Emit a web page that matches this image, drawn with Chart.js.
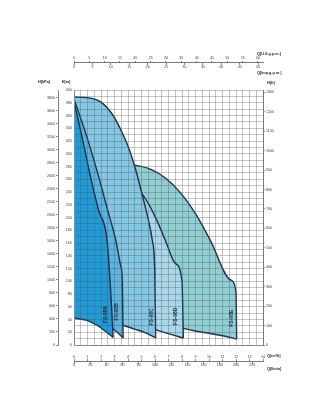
<!DOCTYPE html>
<html>
<head>
<meta charset="utf-8">
<title>FS-98 pump performance curves</title>
<style>
html,body{margin:0;padding:0;background:#fff;}
#wrap{position:relative;width:320px;height:420px;}
canvas{display:block;}
</style>
<script src="https://cdn.jsdelivr.net/npm/chart.js@4.4.1/dist/chart.umd.min.js"></script>
</head>
<body>
<div id="wrap"><canvas id="chart"></canvas></div>
<script>
// ---------------- data (Q in m3/h, H in m) ----------------
const seriesNames = ['FS-98A', 'FS-98B', 'FS-98C', 'FS-98D', 'FS-98E'];

// upper curve (max stages) followed by the right-hand limit
const topQ_A = [0, 0.6, 1.2, 1.8, 2.45, 2.7, 2.9];
const topH_A = [382, 326, 266, 213, 164, 90, 12];
const botQ_A = [0, 0.9, 1.7, 2.3, 2.9];
const botH_A = [42, 39, 31, 22, 12];

const topQ_B = [0, 0.9, 1.8, 2.5, 3.1, 3.45, 3.57, 3.64];
const topH_B = [386, 330, 266, 211, 164, 125, 105, 11];
const botQ_B = [0, 1.5, 2.9, 3.3, 3.64];
const botH_B = [50, 40, 25, 18, 11];

const topQ_C = [0, 1, 2, 2.9, 3.5, 4, 4.5, 5, 5.5, 5.8, 5.98, 6.05];
const topH_C = [389, 388, 381, 360, 336, 312, 280, 240, 197, 164, 118, 11];
const botQ_C = [0, 2, 3.64, 4.5, 5.3, 6.05];
const botH_C = [58, 45, 31, 25, 19, 11];

const topQ_D = [0, 2, 3.5, 4.5, 5.5, 6.1, 6.77, 7.5, 8.0, 8.1];
const topH_D = [290, 283, 270, 252, 222, 197, 164, 128, 100, 11];
const botQ_D = [0, 3, 6.05, 7.1, 8.1];
const botH_D = [65, 48, 24, 17, 11];

const topQ_E = [0, 2, 4, 5.65, 6.77, 7.88, 9, 10.1, 11.6, 12.0, 12.05];
const topH_E = [295, 292, 284, 276, 262, 239, 206, 164, 102, 83, 9.5];
const botQ_E = [0, 4, 8.1, 9, 10.1, 11, 12.05];
const botH_E = [70, 52, 26, 22, 18, 14.5, 9.5];

// label anchors (data units) for the model names
const labelQ = [2.37, 3.19, 5.78, 7.56, 11.7];
const labelH = [48, 52, 44, 45, 42];

// tick labels
const hLabels   = [0,20,40,60,80,100,120,140,160,180,200,220,240,260,280,300,320,340,360,380,400];
const kpaTicks  = [0,200,400,600,800,1000,1200,1400,1600,1800,2000,2200,2400,2600,2800,3000,3200,3400,3600,3800];
const ftTicks   = [0,100,200,300,400,500,600,700,800,900,1000,1100,1200,1300];
const qTicks    = [0,1,2,3,4,5,6,7,8,9,10,11,12,13,14];
const lminTicks = [0,20,40,60,80,100,120,140,160,180,200,220];
const usTicks   = [0,5,10,15,20,25,30,35,40,45,50,55,60];
const impTicks  = [0,5,10,15,20,25,30,35,40,45,50];

// unit conversions
const Q_MAX = 14, H_MAX = 400;
const KPA_PER_M = 9.80665, FT_PER_M = 3.28084;
const USGPM_PER_M3H = 4.40287, IMPGPM_PER_M3H = 3.66615, LMIN_PER_M3H = 1000 / 60;

// ---------------- style ----------------
const FONT = "'Liberation Sans', Arial, sans-serif";
const tickFont = {family: FONT, size: 3.6};
const TICK_COLOR = '#3a3a3a';
const GRID = 'rgba(80,80,80,0.33)';
const LINE = '#18314f';
const AXIS = '#8a8a8a';
const fills = ['#1f9bd8', '#5cb5e0', '#84c7e3', '#a8d8ea', '#8fcfd3'];
const plain = v => String(v);

const PLOT_TOP = 90, PLOT_BOTTOM = 345;
const toH = py => (PLOT_BOTTOM - py) / (PLOT_BOTTOM - PLOT_TOP) * H_MAX;
const rulerTop = toH(63), rulerBot = toH(361);

const pts = (q, h) => q.map((v, i) => ({x: v, y: h[i]}));
const regions = [
  [topQ_A, topH_A, botQ_A, botH_A],
  [topQ_B, topH_B, botQ_B, botH_B],
  [topQ_C, topH_C, botQ_C, botH_C],
  [topQ_D, topH_D, botQ_D, botH_D],
  [topQ_E, topH_E, botQ_E, botH_E]
];
const datasets = [];
regions.forEach((r, i) => {
  const topIdx = datasets.length;
  datasets.push({
    label: seriesNames[i] + ' max', data: pts(r[0], r[1]), xAxisID: 'x', yAxisID: 'y',
    borderColor: LINE, borderWidth: 1.4, pointRadius: 0, fill: false,
    cubicInterpolationMode: 'monotone'
  });
  datasets.push({
    label: seriesNames[i] + ' min', data: pts(r[2], r[3]), xAxisID: 'x', yAxisID: 'y',
    borderColor: LINE, borderWidth: 1.4, pointRadius: 0, fill: topIdx,
    backgroundColor: fills[i], cubicInterpolationMode: 'monotone'
  });
});

const setTicks = arr => s => { s.ticks = arr.map(v => ({value: v})); };
const ruler = (max, arr, pos, tickLen, pad, border) => ({
  type: 'linear', axis: 'x', position: {y: pos}, min: 0, max: max, bounds: 'data',
  afterBuildTicks: setTicks(arr),
  ticks: {font: tickFont, color: TICK_COLOR, padding: pad, autoSkip: false, maxRotation: 0, minRotation: 0, callback: plain},
  grid: {display: true, drawOnChartArea: false, drawTicks: true, tickLength: tickLen, color: '#555', lineWidth: 0.7},
  border: {display: border, color: '#555', width: 0.8}
});

const titles = [
  ['H[kPa]', 44, 81.5, 'center'],
  ['H[m]', 66, 81.5, 'center'],
  ['H[ft]', 267, 83, 'left'],
  ['Q[U.S.g.p.m.]', 257, 53.5, 'left'],
  ['Q[Imp.g.p.m.]', 257, 73, 'left'],
  ['Q[m\u00B3/h]', 267, 355.5, 'left'],
  ['Q[l/min]', 267, 368.5, 'left']
];

const annot = {
  id: 'annot',
  afterDraw(chart) {
    const ctx = chart.ctx;
    ctx.save();
    ctx.fillStyle = '#222';
    ctx.textBaseline = 'middle';
    ctx.font = 'bold 3.8px ' + FONT;
    titles.forEach(t => { ctx.textAlign = t[3]; ctx.fillText(t[0], t[1], t[2]); });
    const sx = chart.scales.x, sy = chart.scales.y;
    ctx.font = 'bold 5px ' + FONT;
    ctx.fillStyle = '#1b2c44';
    seriesNames.forEach((n, i) => {
      ctx.save();
      ctx.translate(sx.getPixelForValue(labelQ[i]), sy.getPixelForValue(labelH[i]));
      ctx.rotate(-Math.PI / 2);
      ctx.textAlign = 'center';
      ctx.fillText(n, 0, 0);
      ctx.restore();
    });
    ctx.restore();
  }
};

new Chart(document.getElementById('chart'), {
  type: 'line',
  data: {datasets},
  plugins: [annot],
  options: {
    responsive: true, maintainAspectRatio: false, animation: false,
    layout: {padding: {left: 0, right: 0, top: PLOT_TOP, bottom: 420 - PLOT_BOTTOM}},
    plugins: {legend: {display: false}, tooltip: {enabled: false}},
    scales: {
      x: {
        type: 'linear', position: 'bottom', min: 0, max: Q_MAX,
        ticks: {display: false, stepSize: 0.5, autoSkip: false},
        grid: {display: true, drawOnChartArea: true, color: GRID, lineWidth: 1, drawTicks: false, z: 1},
        border: {display: true, color: AXIS, z: 2},
        afterFit: s => { s.height = 0; }
      },
      y: {
        type: 'linear', position: 'left', min: 0, max: H_MAX,
        ticks: {stepSize: 10, autoSkip: false, font: tickFont, color: TICK_COLOR, padding: 2.3,
                callback: v => hLabels.includes(v) ? String(v) : ''},
        grid: {display: true, drawOnChartArea: true, color: GRID, lineWidth: 1, drawTicks: false, z: 1},
        border: {display: true, color: AXIS, z: 2},
        afterFit: s => { s.width = 16; }
      },
      yk: {
        type: 'linear', axis: 'y', position: 'left', weight: 1, min: 0, max: H_MAX * KPA_PER_M, bounds: 'data',
        afterBuildTicks: setTicks(kpaTicks),
        ticks: {autoSkip: false, font: tickFont, color: TICK_COLOR, padding: 1, callback: plain},
        grid: {drawOnChartArea: false, tickLength: 2, color: '#666', lineWidth: 0.7},
        border: {display: true, color: '#666', width: 0.8},
        afterFit: s => { s.width = 58; }
      },
      yf: {
        type: 'linear', axis: 'y', position: 'right', min: 0, max: H_MAX * FT_PER_M, bounds: 'data',
        afterBuildTicks: setTicks(ftTicks),
        ticks: {autoSkip: false, font: tickFont, color: TICK_COLOR, padding: 1, callback: plain},
        grid: {drawOnChartArea: false, tickLength: 2, color: '#666', lineWidth: 0.7},
        border: {display: true, color: '#777', width: 1, z: 2},
        afterFit: s => { s.width = 57; }
      },
      xm: ruler(Q_MAX, qTicks, rulerBot, -2, -4.1, false),
      xl: ruler(Q_MAX * LMIN_PER_M3H, lminTicks, rulerBot, 2, -0.1, true),
      xu: ruler(Q_MAX * USGPM_PER_M3H, usTicks, rulerTop, -2, -5.1, true),
      xi: ruler(Q_MAX * IMPGPM_PER_M3H, impTicks, rulerTop, 2, 0.2, false)
    }
  }
});
</script>
</body>
</html>
